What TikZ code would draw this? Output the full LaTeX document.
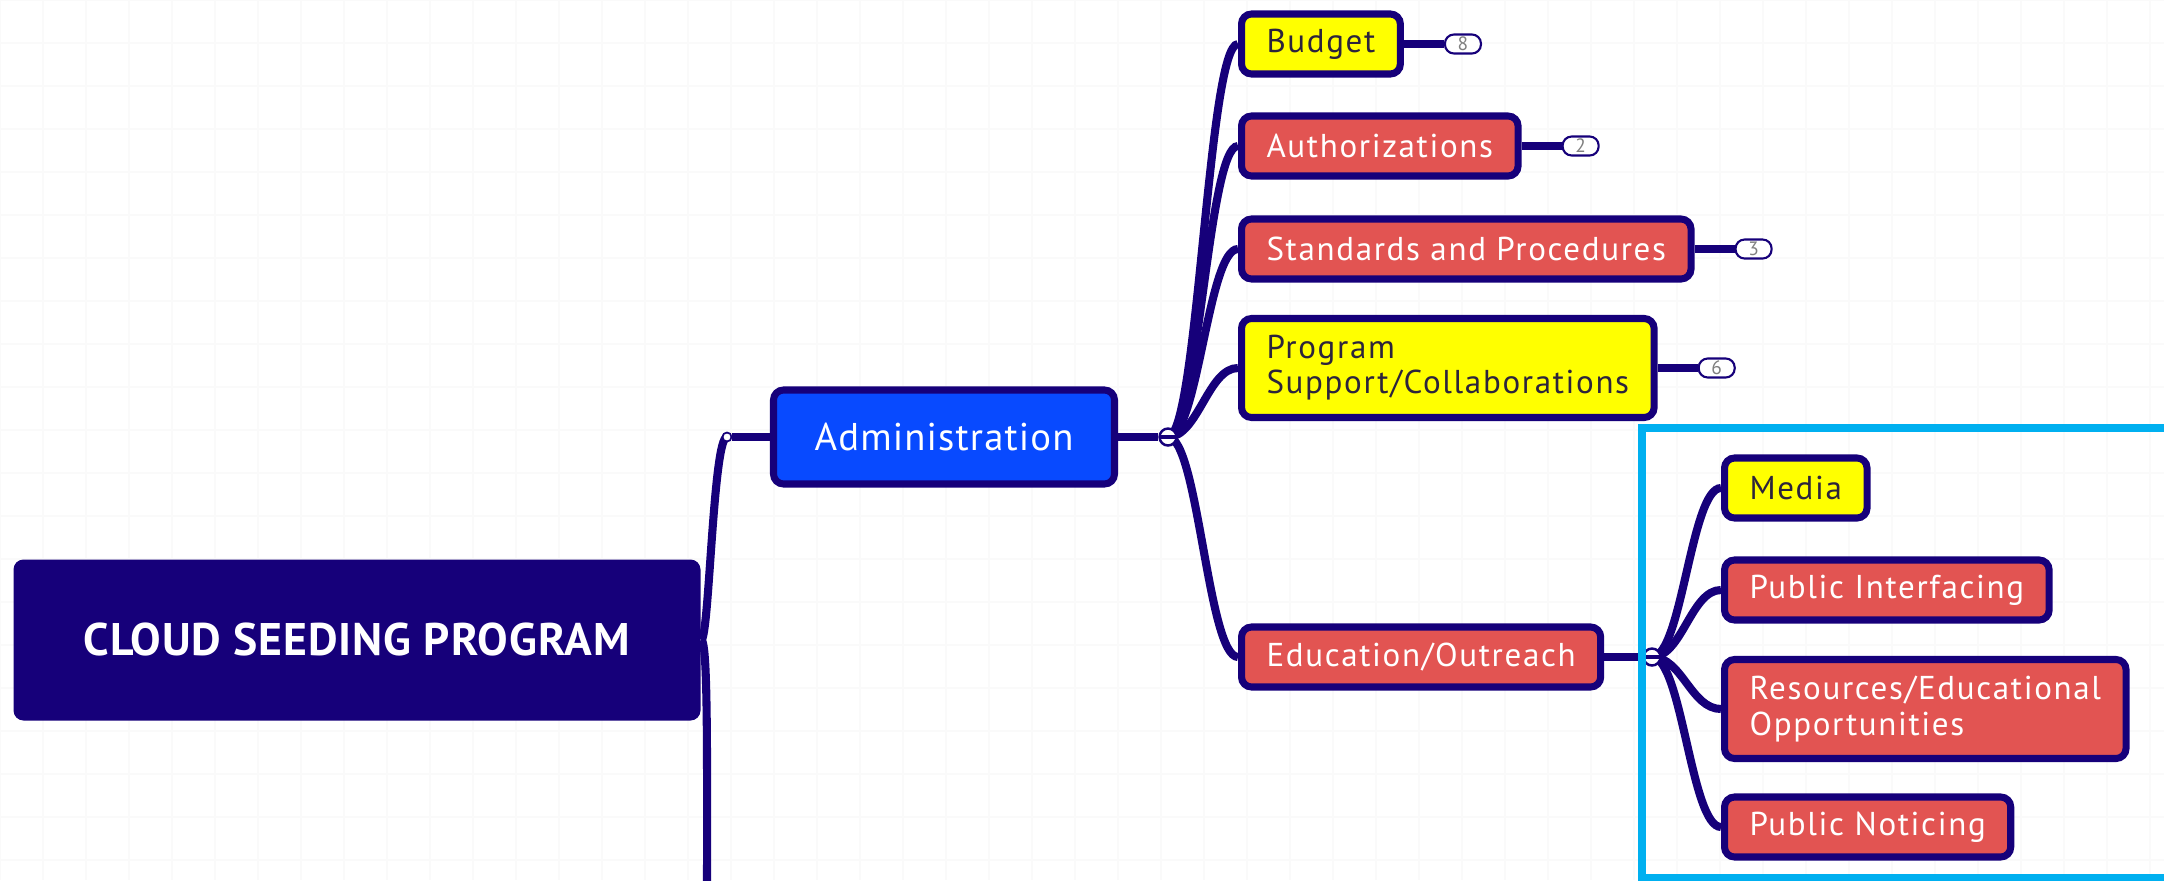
\documentclass[tikz,border=0pt]{standalone}
\usepackage{fontspec}
\setmainfont{PT Sans}
\usepackage{xcolor}
\usetikzlibrary{positioning, backgrounds}
\definecolor{MapNavy}{RGB}{22, 0, 122}
\definecolor{MapBlue}{RGB}{8, 74, 255}
\definecolor{MapRed}{RGB}{226, 84, 82}
\definecolor{MapYellow}{RGB}{255, 255, 0}
\definecolor{MapInk}{RGB}{44, 36, 60}
\definecolor{FrameCyan}{RGB}{0, 176, 240}

\begin{document}
\begin{tikzpicture}[
  topic/.style={rectangle, rounded corners=0.1cm, draw=MapNavy, line width=2pt,
                anchor=west, inner xsep=0.25cm, minimum height=0.6cm,
                font=\fontsize{9.4}{10}\selectfont\addfontfeature{LetterSpace=5},
                align=left},
  hot/.style={topic, fill=MapRed, text=white},
  todo/.style={topic, fill=MapYellow, text=MapInk},
  twoline/.style={minimum height=0.99cm},
  link/.style={draw=MapNavy, line width=2.3pt},
  twig/.style={to path={.. controls +(0.3,0) and +(-0.3,0) .. (\tikztotarget) \tikztonodes}},
  count/.style={draw=MapNavy, fill=white, line width=0.6pt, rounded corners=0.09cm,
                minimum width=0.36cm, minimum height=0.19cm, inner sep=0pt,
                font=\fontsize{5.5}{6}\selectfont, text=gray},
  fold/.style={circle, draw=MapNavy, fill=white, line width=0.7pt,
               minimum size=0.17cm, inner sep=0pt, text=MapNavy}
]
  \useasboundingbox (0,0) rectangle (21.64,-8.80);

  % ---- root and first branch ----
  \node[rectangle, rounded corners=0.1cm, fill=MapNavy, minimum width=6.87cm,
        minimum height=1.61cm, text=white,
        font=\fontsize{13}{15}\selectfont\bfseries\addfontfeature{LetterSpace=2}]
        (root) at (3.57,-6.40) {CLOUD SEEDING PROGRAM};
  \node[fold, minimum size=0.09cm, line width=0.5pt] (c0) at (7.27,-4.37) {};
  \node[rectangle, rounded corners=0.1cm, draw=MapNavy, line width=2pt, fill=MapBlue,
        minimum width=3.41cm, minimum height=0.94cm, text=white,
        font=\fontsize{11}{12}\selectfont\addfontfeature{LetterSpace=3}]
        (adm) at (9.44,-4.37) {Administration};
  \node[fold] (c1) at (11.68,-4.37) {\rule{4pt}{1pt}};
  \coordinate (down) at (7.07,-9.20);

  % ---- administration topics ----
  \node[todo] (bud) at (12.38,-0.44) {Budget};
  \node[hot]  (aut) at (12.38,-1.46) {Authorizations};
  \node[hot]  (std) at (12.38,-2.49) {Standards and Procedures};
  \node[todo, twoline] (prg) at (12.38,-3.68) {Program\\Support/Collaborations};
  \node[hot]  (edu) at (12.38,-6.57) {Education/Outreach};

  % collapsed counts
  \node[count, right=0.4cm of bud] (nbud) {8};
  \node[count, right=0.4cm of aut] (naut) {2};
  \node[count, right=0.4cm of std] (nstd) {3};
  \node[count, right=0.4cm of prg] (nprg) {6};

  % ---- outreach topics ----
  \node[fold] (c2) at (16.52,-6.57) {\rule{4pt}{1pt}};
  \node[todo] (med) at (17.21,-4.88) {Media};
  \node[hot]  (pin) at (17.21,-5.90) {Public Interfacing};
  \node[hot, twoline] (res) at (17.21,-7.09) {Resources/Educational\\Opportunities};
  \node[hot]  (pno) at (17.21,-8.27) {Public Noticing};

  \draw[FrameCyan, line width=0.08cm] (16.42,-4.28) rectangle (22.60,-8.78);

  % connectors go under the boxes
  \begin{pgfonlayer}{background}
    \fill[white] (0,0) rectangle (21.64,-8.80);
    \draw[black!2, line width=0.4pt, step=0.43] (0,0) grid (21.64,-8.80);

    \draw[link] (root.east) .. controls +(0.08,0) and +(-0.14,0) .. (c0.center);
    \draw[link] (root.east) .. controls +(0.07,0) and +(0,1.6) .. (down);
    \draw[link] (c0) -- (adm);
    \draw[link] (adm) -- (c1);
    \foreach \n in {bud, aut, std, prg, edu}
      \draw[link] (c1.center) to[twig] (\n.west);
    \foreach \n in {bud, aut, std, prg}
      \draw[link] (\n.east) -- (n\n.west);
    \draw[link] (edu) -- (c2);
    \foreach \n in {med, pin, res, pno}
      \draw[link] (c2.center) to[twig] (\n.west);
  \end{pgfonlayer}
\end{tikzpicture}
\end{document}
